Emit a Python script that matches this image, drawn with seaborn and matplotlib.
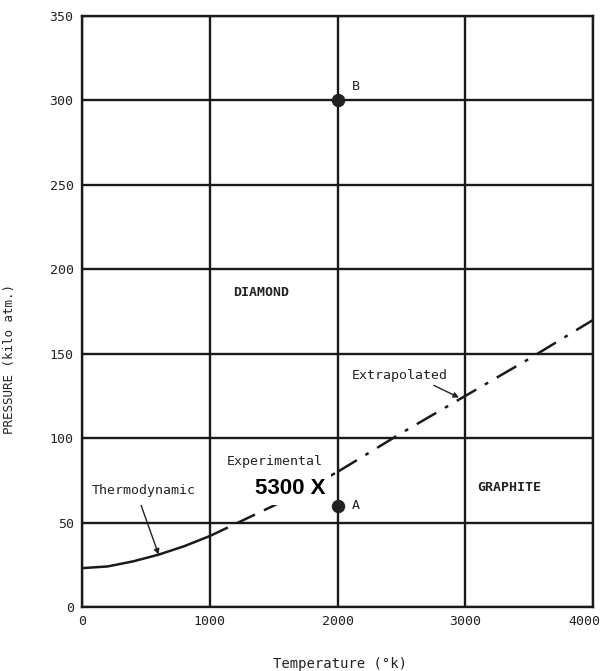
import matplotlib
matplotlib.use("Agg")
import matplotlib.pyplot as plt
import matplotlib.transforms as mtransforms
import seaborn as sns
import pandas as pd

# ---- data ----
thermo_T = [0, 200, 400, 600, 800, 1000]
thermo_P = [23, 24, 27, 31, 36, 42]
exper_T = [1000, 1250, 1500, 1750, 2000]
exper_P = [42, 51, 60, 70, 80]
extrap_T = [2000, 2500, 3000, 3500, 4000]
extrap_P = [80, 103, 125, 147, 170]
point_names = ["A", "B"]
point_T = [2000, 2000]
point_P = [60, 300]
x_ticks = [0, 1000, 2000, 3000, 4000]
y_ticks = [0, 50, 100, 150, 200, 250, 300, 350]

sns.set_theme(style="whitegrid")
plt.rcParams["font.family"] = ["DejaVu Sans Mono", "DejaVu Sans"]

fig = plt.figure(figsize=(6.05, 6.71), dpi=100)
ax = fig.add_axes([0.1355, 0.0954, 0.845, 0.881])

sns.lineplot(x=thermo_T, y=thermo_P, ax=ax, color="#1a1a1a", linewidth=1.8)
sns.lineplot(x=exper_T, y=exper_P, ax=ax, color="#1a1a1a", linewidth=1.8,
             linestyle=(0, (8, 4)))
sns.lineplot(x=extrap_T, y=extrap_P, ax=ax, color="#1a1a1a", linewidth=1.8,
             linestyle=(0, (9, 4, 1.5, 4)))
pts = pd.DataFrame({"T": point_T, "P": point_P, "name": point_names})
sns.scatterplot(data=pts, x="T", y="P", ax=ax, color="#222222", s=80,
                edgecolor="#222222", zorder=5)

ax.set_xlim(0, 4000)
ax.set_ylim(0, 350)
ax.set_xticks(x_ticks)
ax.set_yticks(y_ticks)
ax.grid(True, color="#1a1a1a", linewidth=1.7)
ax.set_axisbelow(True)
for s in ax.spines.values():
    s.set_color("#1a1a1a")
    s.set_linewidth(1.7)
ax.set_facecolor("white")
ax.tick_params(axis="both", labelsize=9.5, colors="#222222", length=0, pad=6)

# nudge the last x tick label so it stays inside the figure
fig.canvas.draw()
last = ax.get_xticklabels()[-1]
last.set_transform(last.get_transform() +
                   mtransforms.ScaledTranslation(-6 / 72, 0, fig.dpi_scale_trans))

ax.set_xlabel("Temperature (°k)", fontsize=10, color="#222222")
ax.set_ylabel("PRESSURE (kilo atm.)", fontsize=9, color="#222222")
ax.xaxis.set_label_coords(0.505, -0.085)
ax.yaxis.set_label_coords(-0.13, 0.42)

txt = dict(color="#222222", fontsize=9.5)
for n, t, p in zip(point_names, point_T, point_P):
    ax.text(t + 110, p + (0 if n == "A" else 8), n, ha="left", va="center", **txt)

ax.text(1400, 186, "DIAMOND", ha="center", va="center", fontweight="bold", **txt)
ax.text(3340, 71, "GRAPHITE", ha="center", va="center", fontweight="bold", **txt)

ax.annotate("Thermodynamic", xy=(600, 31), xytext=(480, 69), ha="center", va="center",
            arrowprops=dict(arrowstyle="-|>", color="#222222", lw=1.0,
                            shrinkA=4, shrinkB=0, mutation_scale=8,
                            relpos=(0.45, 0.0)), **txt)
ax.annotate("Experimental", xy=(1560, 62), xytext=(1510, 86), ha="center", va="center",
            arrowprops=dict(arrowstyle="-", color="#222222", lw=1.0,
                            shrinkA=5, shrinkB=0), **txt)
ax.annotate("Extrapolated", xy=(2950, 124), xytext=(2490, 137), ha="center", va="center",
            arrowprops=dict(arrowstyle="-|>", color="#222222", lw=1.0,
                            shrinkA=0, shrinkB=0, mutation_scale=8,
                            relpos=(0.78, 0.0)), **txt)

ax.text(1630, 70, "5300 X", ha="center", va="center", fontsize=16,
        fontweight="bold", family=["Liberation Sans", "DejaVu Sans"], color="black",
        zorder=10, bbox=dict(boxstyle="square,pad=0.25", facecolor="white",
                             edgecolor="none"))

fig.savefig("out.png", dpi=100)
